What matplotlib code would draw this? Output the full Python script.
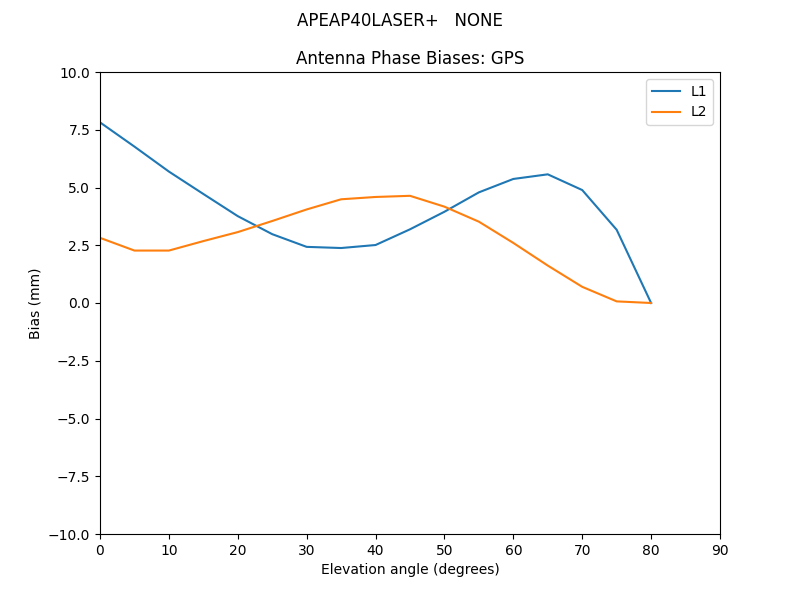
import matplotlib
matplotlib.use("Agg")
import matplotlib.pyplot as plt
import numpy as np

elev = np.arange(0, 85, 5)
l1 = [7.82, 6.77, 5.69, 4.72, 3.76, 2.98, 2.43, 2.38, 2.51, 3.19,
      3.95, 4.79, 5.37, 5.57, 4.89, 3.17, 0.0]
l2 = [2.82, 2.27, 2.27, 2.68, 3.07, 3.55, 4.05, 4.49, 4.59, 4.64,
      4.17, 3.52, 2.60, 1.62, 0.70, 0.07, 0.0]

fig, ax = plt.subplots(figsize=(8, 6), dpi=100)
ax.plot(elev, l1, label='L1')
ax.plot(elev, l2, label='L2')

ax.set_xlim(0, 90)
ax.set_ylim(-10, 10)
ax.set_xlabel("Elevation angle (degrees)")
ax.set_ylabel("Bias (mm)")
ax.set_title("Antenna Phase Biases: GPS")
fig.suptitle("APEAP40LASER+   NONE")
ax.legend()

fig.savefig("out.png")
